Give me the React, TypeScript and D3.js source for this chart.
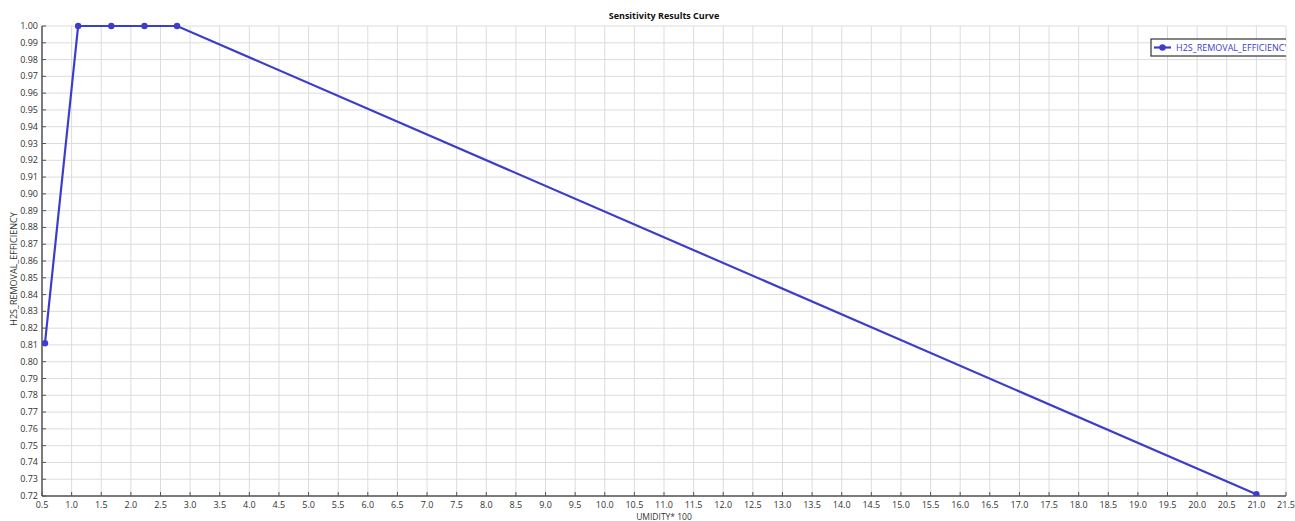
import React from 'react';
import * as d3 from 'd3';

// humidity * 100 vs H2S removal efficiency
const humidity = [0.55, 1.11, 1.67, 2.23, 2.78, 21.0];
const efficiency = [0.811, 1.0, 1.0, 1.0, 1.0, 0.721];
const seriesName = "H2S_REMOVAL_EFFICIENCY";
const xTicks = d3.range(0, 43).map(i => 0.5 + i * 0.5);
const yTicks = d3.range(0, 29).map(i => 0.72 + i * 0.01);

export default function App() {
    const width = 1295;
    const height = 521;
    const margin = { top: 26, bottom: 25, left: 42, right: 9 };
    const font = "'Open Sans', 'Noto Sans', sans-serif";
    const blue = "#3d3dcc";

    const x = d3.scaleLinear()
        .domain([0.5, 21.5])
        .range([margin.left, width - margin.right]);
    const y = d3.scaleLinear()
        .domain([0.72, 1.0])
        .range([height - margin.bottom, margin.top]);

    const points = humidity.map((h, i) => ({ x: h, y: efficiency[i] }));
    const line = d3.line<{ x: number, y: number }>()
        .x(d => x(d.x))
        .y(d => y(d.y));

    const x0 = x(0.5), x1 = x(21.5), y0 = y(0.72), y1 = y(1.0);

    return (
        <svg width={width} height={height}
            style={{ position: "absolute", left: 0, top: 0, background: "#fff" }}
            fontFamily={font}>
            <defs>
                <clipPath id="plot">
                    <rect x={x0} y={y1 - 10} width={x1 - x0} height={y0 - y1 + 10} />
                </clipPath>
            </defs>
            {/* grid */}
            <g stroke="#dcdcdc" strokeWidth={1}>
                {xTicks.map(t => (
                    <line key={"gx" + t} x1={x(t)} x2={x(t)} y1={y1} y2={y0} />
                ))}
                {yTicks.map(t => (
                    <line key={"gy" + t} x1={x0} x2={x1} y1={y(t)} y2={y(t)} />
                ))}
            </g>
            {/* axes */}
            <g stroke="#555" strokeWidth={1.5} fill="none">
                <line x1={x0} x2={x0} y1={y1} y2={y0} />
                <line x1={x0} x2={x1} y1={y0} y2={y0} />
                {xTicks.map(t => (
                    <line key={"tx" + t} x1={x(t)} x2={x(t)} y1={y0} y2={y0 - 4} strokeWidth={1} />
                ))}
                {yTicks.map(t => (
                    <line key={"ty" + t} x1={x0} x2={x0 + 4} y1={y(t)} y2={y(t)} strokeWidth={1} />
                ))}
            </g>
            <g fontSize={9} fill="#333">
                {xTicks.map(t => (
                    <text key={"lx" + t} x={x(t)} y={y0 + 12} textAnchor="middle">{t.toFixed(1)}</text>
                ))}
                {yTicks.map(t => (
                    <text key={"ly" + t} x={x0 - 4} y={y(t) + 3} textAnchor="end">{t.toFixed(2)}</text>
                ))}
            </g>
            {/* series */}
            <g clipPath="url(#plot)">
                <path d={line(points) ?? ""} fill="none" stroke={blue} strokeWidth={2.2} />
                {points.map((p, i) => (
                    <circle key={i} cx={x(p.x)} cy={y(p.y)} r={3.2} fill={blue} />
                ))}
                {/* legend */}
                <rect x={1151} y={39} width={145} height={17} fill="#fff" stroke="#333" strokeWidth={1.2} />
                <line x1={1154} x2={1171} y1={47.5} y2={47.5} stroke={blue} strokeWidth={2.2} />
                <circle cx={1162.5} cy={47.5} r={3.2} fill={blue} />
                <text x={1176} y={50.5} fontSize={9} fill={blue}>{seriesName}</text>
            </g>
            <text x={(x0 + x1) / 2} y={19} textAnchor="middle" fontSize={9} fontWeight="bold" fill="#111">
                Sensitivity Results Curve
            </text>
            <text x={(x0 + x1) / 2} y={520} textAnchor="middle" fontSize={8.5} fill="#333">
                UMIDITY* 100
            </text>
            <text transform={`translate(17, ${(y0 + y1) / 2 + 8}) rotate(-90)`} textAnchor="middle" fontSize={9} fill="#333">
                {seriesName}
            </text>
        </svg>
    );
}
